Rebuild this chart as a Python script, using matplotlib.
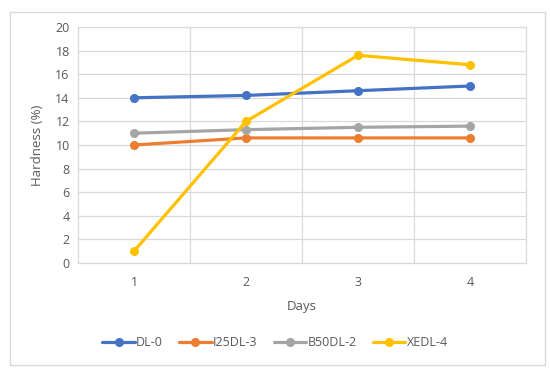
import matplotlib
matplotlib.use("Agg")
import matplotlib.pyplot as plt
from matplotlib.patches import Rectangle

days = ["1", "2", "3", "4"]
dl0 = [14.0, 14.2, 14.6, 15.0]
i25dl3 = [10.0, 10.6, 10.6, 10.6]
b50dl2 = [11.0, 11.3, 11.5, 11.6]
xedl4 = [1.0, 12.0, 17.6, 16.8]
series_names = ["DL-0", "I25DL-3", "B50DL-2", "XEDL-4"]
colors = ["#4472C4", "#ED7D31", "#A5A5A5", "#FFC000"]

plt.rcParams['font.family'] = ['Open Sans', 'DejaVu Sans']
txt = "#595959"
grid = "#D9D9D9"

W, H = 550, 374
fig = plt.figure(figsize=(W/100, H/100), dpi=100)
ax = fig.add_axes([78/W, 1-263/H, (526-78)/W, (263-27)/H])

fig.patches.append(Rectangle((10/W, 1-365/H), 535/W, 353/H, transform=fig.transFigure,
                             fill=False, edgecolor=grid, linewidth=1))

x = list(range(1, len(days)+1))
for vals, name, c in zip([dl0, i25dl3, b50dl2, xedl4], series_names, colors):
    ax.plot(x, vals, color=c, lw=2.3, marker='o', markersize=5.5, label=name,
            solid_capstyle='round')

ax.set_xlim(0.5, 4.5)
ax.set_ylim(0, 20)
ax.set_yticks(range(0, 21, 2))
ax.set_xticks(x)
ax.set_xticklabels(days)
ax.set_xticks([1.5, 2.5, 3.5], minor=True)
ax.grid(True, axis='y', color=grid, lw=0.9)
ax.grid(True, axis='x', which='minor', color=grid, lw=0.9)
ax.set_axisbelow(True)
for s in ax.spines.values():
    s.set_color(grid)
    s.set_linewidth(0.9)
ax.tick_params(which='both', length=0, colors=txt, labelsize=9)
ax.tick_params(axis='x', pad=9)
ax.tick_params(axis='y', pad=6)
ax.set_xlabel("Days", color=txt, fontsize=9.5, labelpad=8)
ax.set_ylabel("Hardness (%)", color=txt, fontsize=9.5, labelpad=8)

leg = fig.legend(loc='center', bbox_to_anchor=(0.5, 1-343/H), ncol=4, frameon=False,
                 fontsize=9, handlelength=2.6, columnspacing=1.3, handletextpad=0.1,
                 labelcolor=txt)

fig.savefig("out.png", dpi=100)
